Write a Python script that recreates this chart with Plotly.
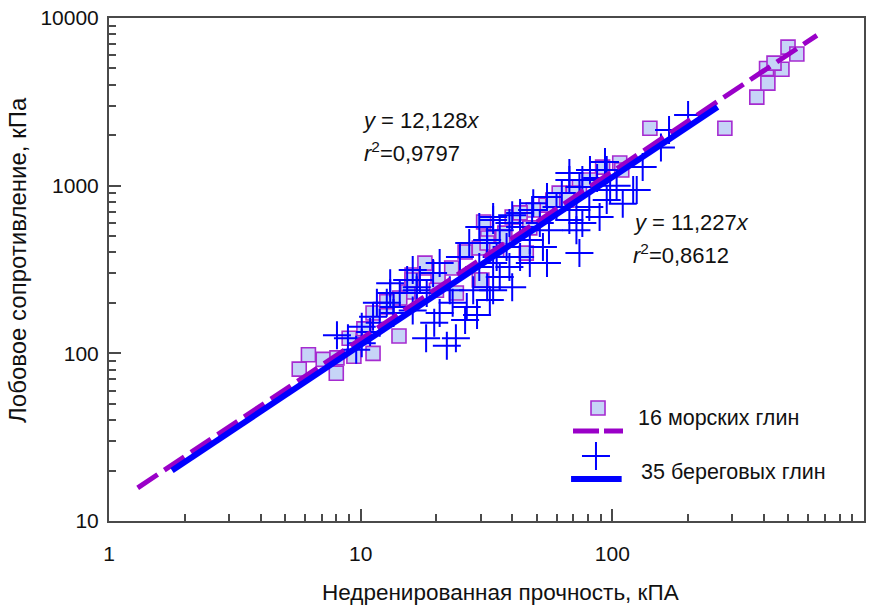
import plotly.graph_objects as go

# ---------------- data ----------------
marine_x = [5.7, 6.2, 7.1, 8.05, 8.0, 9.4, 11.2, 9.0, 10.3, 14.2, 11.2, 12.7, 14.1, 15.4, 16.0,
            26, 29.6, 23, 18.3, 16, 20.3, 37.4, 32, 40, 14.3, 12.7, 24, 20, 29.6, 18, 30.8, 54.5,
            107, 91.5, 74, 61.5, 58, 48.5, 43, 36.7, 31.8, 34.7, 30.3, 81, 70, 45.5, 109, 47, 66,
            141, 280, 375, 415, 410, 472, 439, 499, 541]
marine_y = [80.5, 98, 92, 94, 76, 96, 100, 123, 140, 127, 174, 189, 208, 232, 293,
            402, 425, 323, 323, 274, 274, 521, 487, 650, 214, 203, 229, 238, 274, 345, 607, 766,
            1365, 1290, 982, 903, 820, 716, 688, 494, 455, 414, 274, 1080, 903, 396, 1240, 560, 820,
            2200, 2200, 3375, 4090, 5000, 4950, 5380, 6700, 6100]

coastal_x = [93.5, 81.5, 87, 74, 98, 121, 67.5, 63, 55, 60, 72, 81, 95, 89, 76, 67.5, 72, 74, 56, 51.5,
             47, 53, 55, 47, 43, 43, 39, 35.7, 33.6, 35.7, 40, 33.6, 31.8, 38, 33.6, 67.5, 76, 48, 48.5, 43, 40,
             33.6, 29.6, 39, 27, 31.8, 34.7, 29.6, 24.8, 20.6, 19.4, 17.2, 16.1, 16.7, 14.3, 18.3, 22.6, 23.2,
             28, 26.4, 31.8, 12.7, 13.1, 13.5, 20.6, 16.1,
             8.05, 8.9, 10.1, 10.9, 11.2, 11.9, 10.1, 13.1, 13.5, 15.3, 16.7, 11.6, 9.6,
             18.2, 22, 23.9, 19.6, 26, 29, 32.6,
             200, 168, 156, 132, 125, 95, 110, 104]
coastal_y = [1384, 1240, 1110, 982, 942, 942, 1080, 903, 855, 745, 716, 745, 820, 650, 599, 623, 543, 396, 543, 599,
             474, 431, 346, 346, 688, 375, 327, 543, 623, 285, 248, 238, 474, 431, 346, 1189, 1080, 716, 785, 566, 666,
             650, 566, 599, 455, 455, 375, 327, 375, 346, 301, 274, 314, 238, 229, 229, 238, 200,
             238, 189, 248, 200, 262, 174, 174, 180,
             128, 123, 144, 134, 165, 152, 115, 229, 189, 274, 248, 200, 105,
             123, 111, 123, 152, 158, 169, 208,
             2640, 2150, 1690, 1290, 942, 1240, 780, 1000]

marine_slope = 12.128
coastal_slope = 11.227
marine_fit_x = [1.3, 650]
coastal_fit_x = [1.78, 262]

x_tickvals = [1, 10, 100, 1000]
x_ticktext = ["1", "10", "100", "1000"]
y_tickvals = [10, 100, 1000, 10000]
y_ticktext = ["10", "100", "1000", "10000"]

legend_labels = ["16 морских глин", "35 береговых глин"]
x_title = "Недренированная прочность, кПА"
y_title = "Лобовое сопротивление, кПа"

# ---------------- styles ----------------
PURPLE = "#9a00c8"
SQ_FILL = "#c6d4f7"
SQ_LINE = "#a62bd0"
BLUE = "#0000ff"
AXC = "#4a4a4a"
FONT = "Liberation Sans, Arial, sans-serif"

fig = go.Figure()

fig.add_trace(go.Scatter(
    x=marine_x, y=marine_y, mode="markers",
    marker=dict(symbol="square", size=14, color=SQ_FILL, line=dict(color=SQ_LINE, width=1.6)),
    showlegend=False, hoverinfo="skip"))

fig.add_trace(go.Scatter(
    x=coastal_x, y=coastal_y, mode="markers",
    marker=dict(symbol="cross-thin", size=20, color=BLUE, line=dict(color=BLUE, width=2)),
    showlegend=False, hoverinfo="skip"))

fig.add_trace(go.Scatter(
    x=marine_fit_x, y=[marine_slope * v for v in marine_fit_x], mode="lines",
    line=dict(color=PURPLE, width=5, dash="24px,8px"),
    showlegend=False, hoverinfo="skip"))

fig.add_trace(go.Scatter(
    x=coastal_fit_x, y=[coastal_slope * v for v in coastal_fit_x], mode="lines",
    line=dict(color=BLUE, width=6),
    showlegend=False, hoverinfo="skip"))

# ---- custom legend on an overlay [0,1] axis ----
fig.add_trace(go.Scatter(
    x=[0.6477], y=[0.2247], mode="markers", xaxis="x2", yaxis="y2",
    marker=dict(symbol="square", size=14, color=SQ_FILL, line=dict(color=SQ_LINE, width=1.6)),
    showlegend=False, hoverinfo="skip"))
fig.add_trace(go.Scatter(
    x=[0.6146, 0.6808], y=[0.179, 0.179], mode="lines", xaxis="x2", yaxis="y2",
    line=dict(color=PURPLE, width=5, dash="26px,5px"),
    showlegend=False, hoverinfo="skip"))
fig.add_trace(go.Scatter(
    x=[0.645], y=[0.129], mode="markers", xaxis="x2", yaxis="y2",
    marker=dict(symbol="cross-thin", size=20, color=BLUE, line=dict(color=BLUE, width=2)),
    showlegend=False, hoverinfo="skip"))
fig.add_trace(go.Scatter(
    x=[0.612, 0.679], y=[0.0835, 0.0835], mode="lines", xaxis="x2", yaxis="y2",
    line=dict(color=BLUE, width=6),
    showlegend=False, hoverinfo="skip"))

annots = [
    dict(x=0.698, y=0.2048, text=legend_labels[0], size=21.5),
    dict(x=0.7026, y=0.0974, text=legend_labels[1], size=21.5),
    dict(x=0.332, y=0.797, text="<i>y</i> = 12,128<i>x</i>", size=22),
    dict(x=0.335, y=0.734, text="<i>r</i><sup>2</sup>=0,9797", size=22),
    dict(x=0.691, y=0.594, text="<i>y</i> = 11,227<i>x</i>", size=22),
    dict(x=0.691, y=0.531, text="<i>r</i><sup>2</sup>=0,8612", size=22),
]
for a in annots:
    sz = a.pop("size")
    a.update(xref="paper", yref="paper", xanchor="left", yanchor="middle",
             showarrow=False, font=dict(size=sz, color="#111111", family=FONT))

# axis titles as annotations (placed like the reference)
annots.append(dict(x=0.518, y=-0.143, xref="paper", yref="paper", xanchor="center", yanchor="middle",
                   text=x_title, showarrow=False,
                   font=dict(size=22.5, color="#111111", family=FONT)))
annots.append(dict(x=-0.1205, y=0.519, xref="paper", yref="paper", xanchor="center", yanchor="middle",
                   text=y_title, textangle=-90, showarrow=False,
                   font=dict(size=24, color="#111111", family=FONT)))

minor_x = [m * 10 ** e for e in range(0, 3) for m in range(2, 10)]
minor_y = [m * 10 ** e for e in range(1, 4) for m in range(2, 10)]

fig.update_layout(
    width=880, height=605,
    margin=dict(l=109, r=16, t=18, b=84, autoexpand=False),
    paper_bgcolor="white", plot_bgcolor="white",
    font=dict(family=FONT, size=21, color="#111111"),
    annotations=annots,
    xaxis=dict(
        type="log", range=[0, 3],
        tickmode="array", tickvals=x_tickvals, ticktext=x_ticktext,
        ticks="inside", ticklen=12, tickwidth=1.5, tickcolor=AXC,
        minor=dict(tickmode="array", tickvals=minor_x, ticks="inside", ticklen=7,
                   tickwidth=1.5, tickcolor=AXC, showgrid=False),
        showline=True, linecolor=AXC, linewidth=2, mirror=True,
        showgrid=False, zeroline=False,
        ticklabelstandoff=13,
        tickfont=dict(size=21, color="#111111"),
    ),
    yaxis=dict(
        type="log", range=[1, 4],
        tickmode="array", tickvals=y_tickvals, ticktext=y_ticktext,
        ticks="inside", ticklen=12, tickwidth=1.5, tickcolor=AXC,
        minor=dict(tickmode="array", tickvals=minor_y, ticks="inside", ticklen=7,
                   tickwidth=1.5, tickcolor=AXC, showgrid=False),
        showline=True, linecolor=AXC, linewidth=2, mirror=True,
        showgrid=False, zeroline=False,
        ticklabelstandoff=4,
        tickfont=dict(size=21, color="#111111"),
    ),
    xaxis2=dict(overlaying="x", range=[0, 1], visible=False, fixedrange=True),
    yaxis2=dict(overlaying="y", range=[0, 1], visible=False, fixedrange=True),
)

fig.write_html("out.html")
